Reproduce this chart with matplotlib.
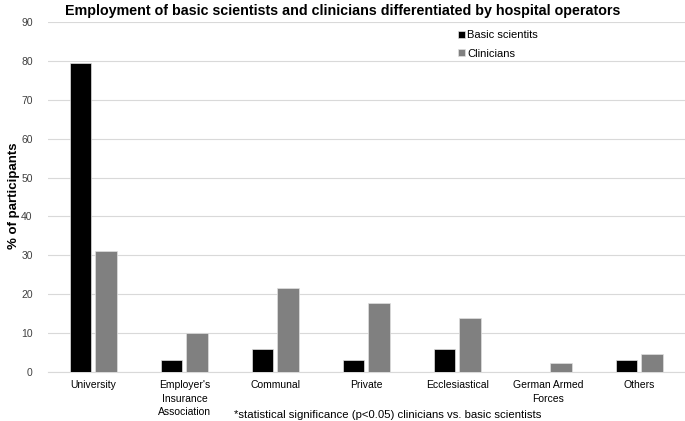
import matplotlib.pyplot as plt
import numpy as np

plt.rcParams['font.family'] = ['Liberation Sans', 'DejaVu Sans']

# Hospital operators
categories = ['University', "Employer's\nInsurance\nAssociation", 'Communal', 'Private',
              'Ecclesiastical', 'German Armed\nForces', 'Others']

# % of participants
basic = [79.5, 3, 6, 3, 6, 0, 3]
clinicians = [31, 10, 21.5, 17.7, 13.8, 2.3, 4.5]

fig = plt.figure(figsize=(6.85, 4.21), dpi=100)
ax = fig.add_axes([0.070, 0.1164, 0.930, 0.8313])

x = np.arange(len(categories))
w = 0.24
ax.bar(x - w / 2 - 0.022, basic, w, color='black', edgecolor='#e0e0e0', linewidth=0.5,
       label='Basic scientits', zorder=3)
ax.bar(x + w / 2 + 0.022, clinicians, w, color='#808080', edgecolor='#e0e0e0', linewidth=0.5,
       label='Clinicians', zorder=3)

ax.set_xlim(-0.5, len(categories) - 0.5)
ax.set_ylim(0, 90)
ax.set_yticks(range(0, 91, 10))
ax.set_xticks(x)
ax.set_xticklabels(categories, fontsize=7.5, va='top', linespacing=1.4)
ax.tick_params(axis='y', labelsize=7.5, length=0, pad=11, colors='#404040')
ax.tick_params(axis='x', length=0, pad=6)
ax.grid(axis='y', color='#d9d9d9', linewidth=0.8, zorder=0)
for s in ['top', 'right', 'left']:
    ax.spines[s].set_visible(False)
ax.spines['bottom'].set_color('#d9d9d9')

# y label placed in figure coords so it stays inside the canvas
fig.text(0.021, 0.534, '% of participants', rotation=90, ha='center', va='center',
         fontsize=9.5, fontweight='bold')
fig.suptitle('Employment of basic scientists and clinicians differentiated by hospital operators',
             fontsize=10.3, fontweight='bold', x=0.5, y=0.99)

ax.legend(loc='upper left', bbox_to_anchor=(0.628, 1.005), frameon=False, fontsize=8,
          handlelength=0.6, handleheight=0.6, handletextpad=0.2, labelspacing=0.75)

fig.text(0.566, 0.006, '*statistical significance (p<0.05) clinicians vs. basic scientists',
         ha='center', fontsize=8.2)

fig.savefig('out.png', dpi=100)
